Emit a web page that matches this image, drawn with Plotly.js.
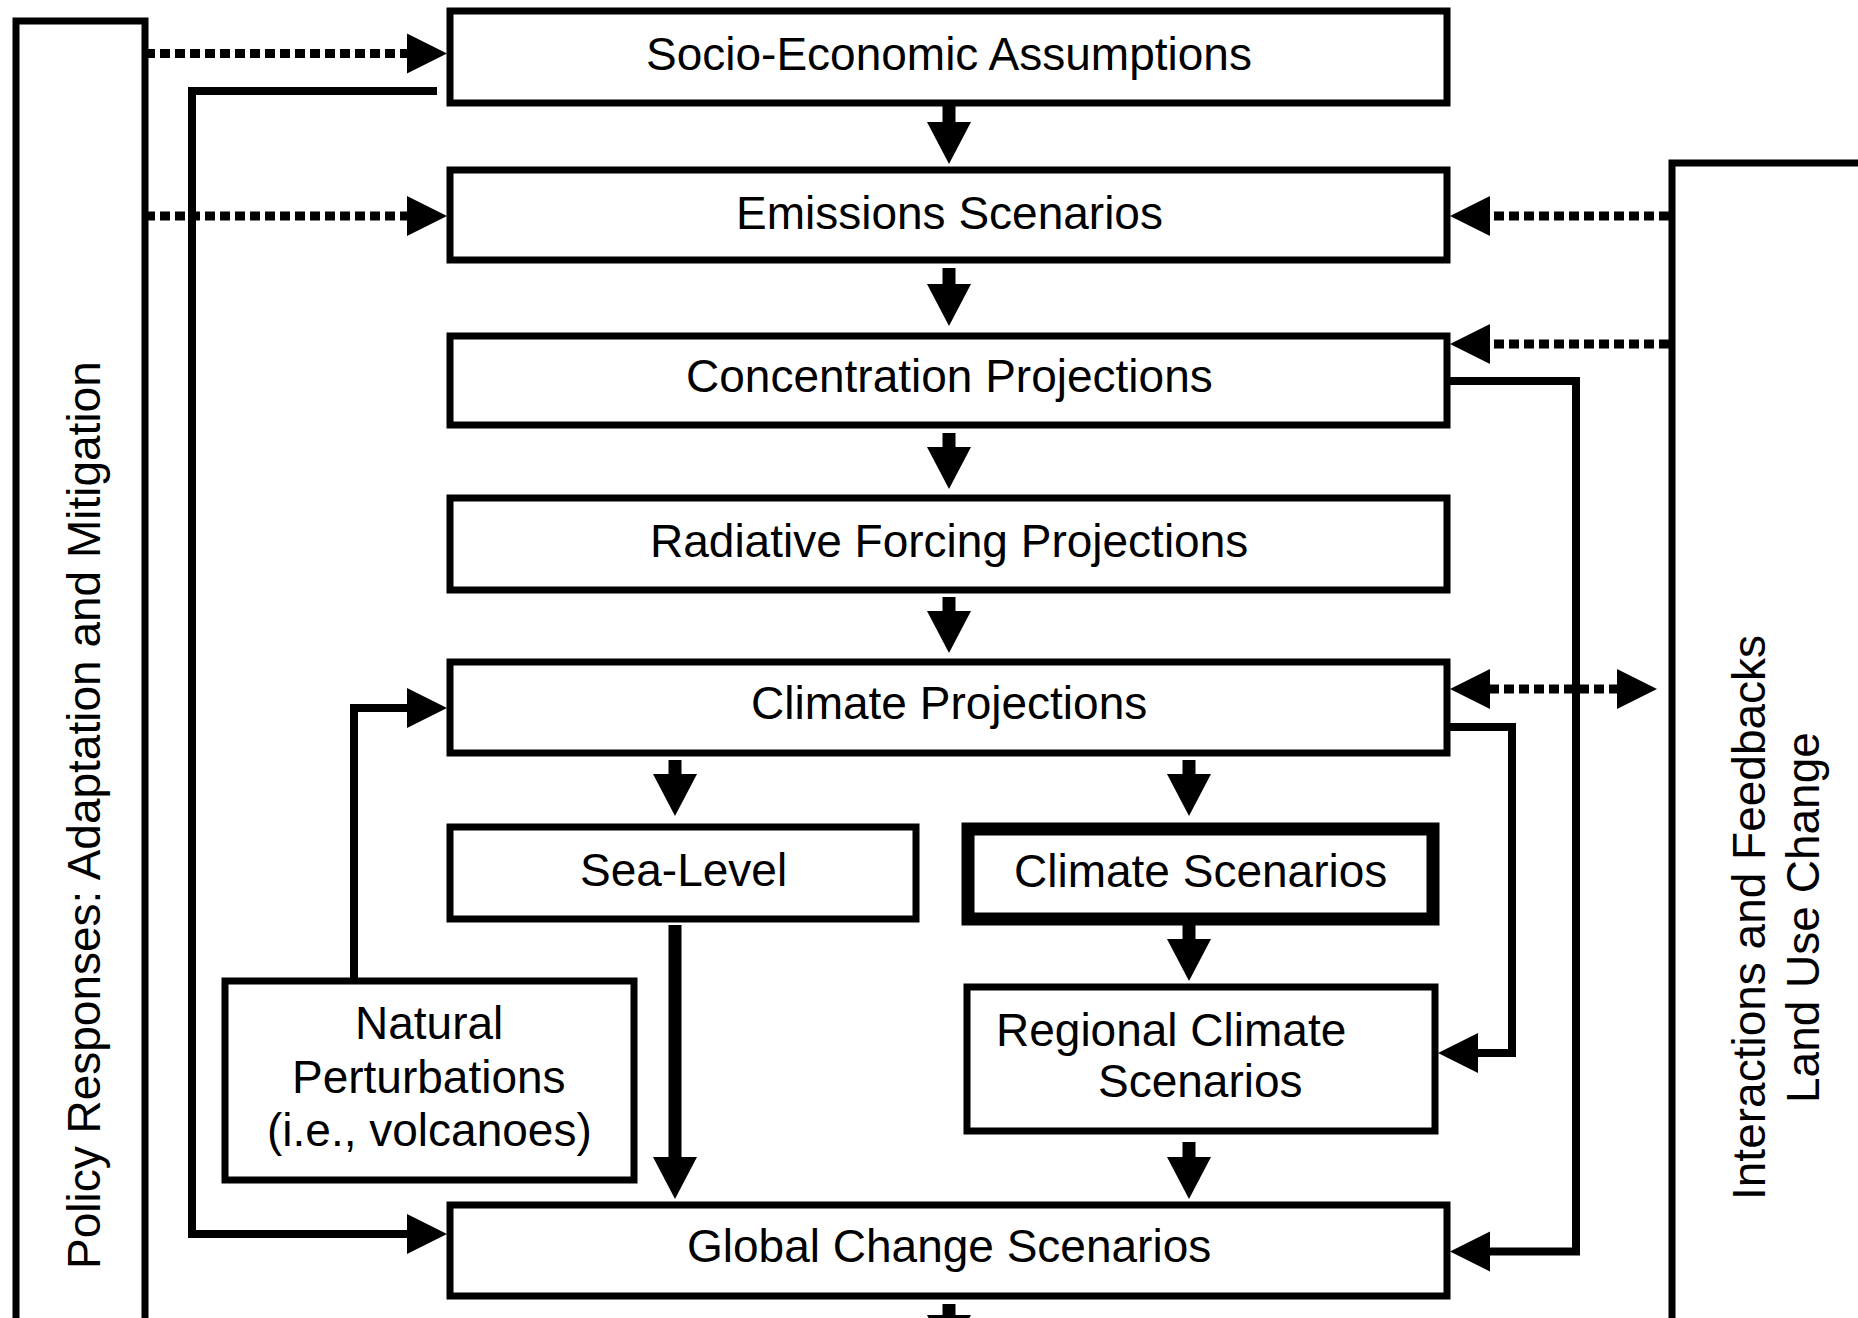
<!DOCTYPE html>
<html>
<head>
<meta charset="utf-8">
<script src="https://cdn.plot.ly/plotly-3.0.1.min.js"></script>
<style>
html,body{margin:0;padding:0;background:#ffffff;}
#chart{width:1858px;height:1318px;}
</style>
</head>
<body>
<div id="chart"></div>
<script>
// ---------------- Diagram content (text) ----------------
const boxIds = ["socio","emis","conc","rad","clim","sea","cscen","reg","nat","glob"];
const boxLines = [
  ["Socio-Economic Assumptions"],
  ["Emissions Scenarios"],
  ["Concentration Projections"],
  ["Radiative Forcing Projections"],
  ["Climate Projections"],
  ["Sea-Level"],
  ["Climate Scenarios"],
  ["Regional Climate", "Scenarios"],
  ["Natural", "Perturbations", "(i.e., volcanoes)"],
  ["Global Change Scenarios"]
];
const sideIds = ["policy","land"];
const sideLines = [
  ["Policy Responses: Adaptation and Mitigation"],
  ["Interactions and Feedbacks", "Land Use Change"]
];
// flows: from -> to, kind
const flowFrom = ["socio","emis","conc","rad","clim","clim","cscen","sea","reg","glob","policy","policy","land","land","clim","nat","policy","conc","clim"];
const flowTo   = ["emis","conc","rad","clim","sea","cscen","reg","glob","glob","next","socio","emis","emis","conc","land","clim","glob","glob","reg"];
const flowKind = ["solid","solid","solid","solid","solid","solid","solid","solid","solid","solid","dotted","dotted","dotted","dotted","dotted2","solid","solid","solid","solid"];

// ---------------- Layout geometry (pixel space) ----------------
const geomBox = {
  socio:[450,11,1447,103,7], emis:[450,170,1447,260,7], conc:[450,336,1447,425,7],
  rad:[450,498,1447,590,7], clim:[450,662,1447,753,7], sea:[450,827,916,919,7],
  cscen:[968,829,1433,919,13], reg:[967,987,1435,1131,7], nat:[225,981,634,1180,7],
  glob:[450,1205,1447,1296,7], policy:[16,21,145,1500,7], land:[1672,163,2100,1500,7]
};
// text line positions [x, y] for each line (centres)
const geomText = {
  socio:[[949,54]], emis:[[949,213]], conc:[[949,376]], rad:[[949,541]], clim:[[949,703]],
  sea:[[683,870]], cscen:[[1200,871]], reg:[[1171,1030],[1200,1081]],
  nat:[[429,1023],[429,1077],[429,1130]], glob:[[949,1246]],
  policy:[[84,815]], land:[[1749,918],[1803,918]]
};
// connector routes: list of points, last point = arrow tip
const geomFlow = [
  {pts:[[949,106],[949,164]], dir:"down"},
  {pts:[[949,268],[949,326]], dir:"down"},
  {pts:[[949,433],[949,489]], dir:"down"},
  {pts:[[949,597],[949,653]], dir:"down"},
  {pts:[[675,760],[675,816]], dir:"down"},
  {pts:[[1189,760],[1189,816]], dir:"down"},
  {pts:[[1189,925],[1189,981]], dir:"down"},
  {pts:[[675,925],[675,1199]], dir:"down"},
  {pts:[[1189,1142],[1189,1199]], dir:"down"},
  {pts:[[949,1304],[949,1357]], dir:"down"},
  {pts:[[145,53.5],[447,53.5]], dir:"right"},
  {pts:[[145,216],[447,216]], dir:"right"},
  {pts:[[1669,216],[1450,216]], dir:"left"},
  {pts:[[1669,344],[1450,344]], dir:"left"},
  {pts:[[1450,689],[1657,689]], dir:"both"},
  {pts:[[354,981],[354,708],[447,708]], dir:"right"},
  {pts:[[437,91],[192,91],[192,1234],[447,1234]], dir:"right"},
  {pts:[[1450,381],[1576,381],[1576,1251.5],[1450,1251.5]], dir:"left"},
  {pts:[[1450,727],[1512,727],[1512,1053],[1438,1053]], dir:"left"}
];

const FONT = "Liberation Sans, Arial, Helvetica, sans-serif";
const FS = 46;
const VHL = 42, VHW = 44;   // vertical arrow head length/width
const HHL = 40, HHW = 40;   // horizontal arrow head length/height
const SHAFT_V = 13, LINE_W = 8, DOT_W = 9, DOT_DASH = "10px,5px";

const shapes = [];
const annotations = [];

function pathOf(pts){ return pts.map((p,i)=>(i?"L":"M")+p[0]+","+p[1]).join(" "); }
function addPath(pts, w, dash){
  shapes.push({type:"path", xref:"x", yref:"y", path:pathOf(pts),
    line:{color:"#000000", width:w, dash:dash||"solid"}, fillcolor:"rgba(0,0,0,0)", layer:"above"});
}
function addHead(tip, dir){
  const [x,y] = tip; let p;
  if(dir==="down") p=[[x,y],[x-VHW/2,y-VHL],[x+VHW/2,y-VHL]];
  else if(dir==="up") p=[[x,y],[x-VHW/2,y+VHL],[x+VHW/2,y+VHL]];
  else if(dir==="right") p=[[x,y],[x-HHL,y-HHW/2],[x-HHL,y+HHW/2]];
  else p=[[x,y],[x+HHL,y-HHW/2],[x+HHL,y+HHW/2]];
  shapes.push({type:"path", xref:"x", yref:"y", path:pathOf(p)+" Z",
    line:{width:0, color:"rgba(0,0,0,0)"}, fillcolor:"#000000", layer:"above"});
}
function shorten(pts, dir, len){
  const q = pts.map(p=>p.slice()); const t = q[q.length-1];
  if(dir==="down") t[1]-=len-1; else if(dir==="up") t[1]+=len-1;
  else if(dir==="right") t[0]-=len-1; else t[0]+=len-1;
  return q;
}

// boxes
boxIds.concat(sideIds).forEach(id=>{
  const g = geomBox[id];
  shapes.push({type:"rect", xref:"x", yref:"y", x0:g[0], y0:g[1], x1:g[2], y1:g[3],
    line:{color:"#000000", width:g[4]}, fillcolor:"rgba(0,0,0,0)", layer:"above"});
});

// flows
flowKind.forEach((kind,i)=>{
  const f = geomFlow[i];
  const pts = f.pts;
  if(kind==="dotted2"){
    const a = pts[0], b = pts[1];
    addPath([[a[0]+HHL-1,a[1]],[b[0]-HHL+1,b[1]]], DOT_W, DOT_DASH);
    addHead(a,"left"); addHead(b,"right");
    return;
  }
  const isV = f.dir==="down"||f.dir==="up";
  const len = isV ? VHL : HHL;
  const w = kind==="dotted" ? DOT_W : (isV && pts.length===2 ? SHAFT_V : LINE_W);
  addPath(shorten(pts, f.dir, len), w, kind==="dotted" ? DOT_DASH : "solid");
  addHead(pts[pts.length-1], f.dir);
});

// text
function addText(id, lines, angle){
  lines.forEach((t,j)=>{
    const pos = geomText[id][j];
    annotations.push({x:pos[0], y:pos[1], xref:"x", yref:"y", text:t, showarrow:false,
      xanchor:"center", yanchor:"middle", textangle:angle||0,
      font:{family:FONT, size:FS, color:"#000000"}});
  });
}
boxIds.forEach((id,i)=>addText(id, boxLines[i], 0));
sideIds.forEach((id,i)=>addText(id, sideLines[i], -90));

const layout = {
  width:1858, height:1318,
  margin:{l:0,r:0,t:0,b:0,pad:0},
  paper_bgcolor:"#ffffff", plot_bgcolor:"#ffffff",
  xaxis:{range:[0,1858], visible:false, showgrid:false, zeroline:false, fixedrange:true},
  yaxis:{range:[1318,0], visible:false, showgrid:false, zeroline:false, fixedrange:true},
  showlegend:false,
  shapes:shapes, annotations:annotations
};
Plotly.newPlot("chart", [], layout, {displayModeBar:false, staticPlot:true});
</script>
</body>
</html>
